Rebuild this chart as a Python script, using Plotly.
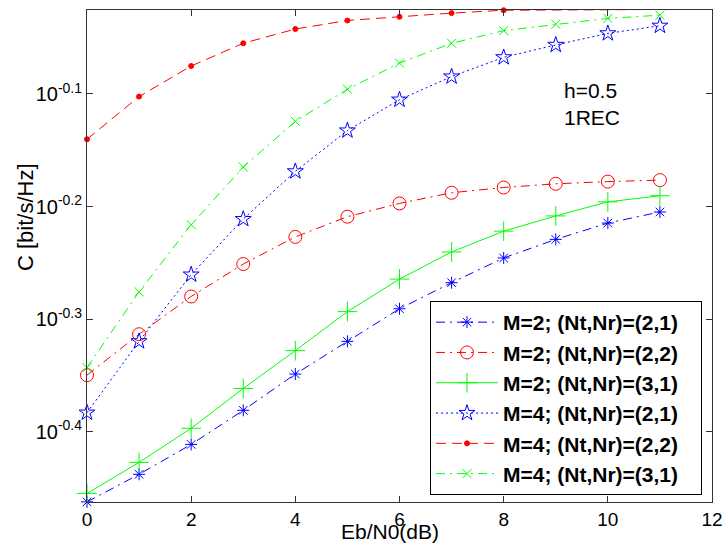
import plotly.graph_objects as go

ebn0 = [0, 1, 2, 3, 4, 5, 6, 7, 8, 9, 10, 11]

c_m2_21 = [0.345, 0.365, 0.388, 0.416, 0.448, 0.479, 0.512, 0.540, 0.568, 0.590, 0.610, 0.624]
c_m2_22 = [0.447, 0.486, 0.525, 0.561, 0.593, 0.618, 0.635, 0.649, 0.656, 0.661, 0.664, 0.666]
c_m2_31 = [0.351, 0.374, 0.401, 0.435, 0.470, 0.509, 0.544, 0.575, 0.600, 0.619, 0.637, 0.645]
c_m4_21 = [0.414, 0.479, 0.549, 0.615, 0.678, 0.737, 0.785, 0.823, 0.856, 0.878, 0.899, 0.913]
c_m4_22 = [0.724, 0.790, 0.841, 0.881, 0.907, 0.923, 0.930, 0.937, 0.9425, 0.943, 0.9435, 0.944]
c_m4_31 = [0.454, 0.530, 0.608, 0.684, 0.751, 0.802, 0.846, 0.881, 0.904, 0.916, 0.927, 0.933]

names = [
    "M=2; (Nt,Nr)=(2,1)",
    "M=2; (Nt,Nr)=(2,2)",
    "M=2; (Nt,Nr)=(3,1)",
    "M=4; (Nt,Nr)=(2,1)",
    "M=4; (Nt,Nr)=(2,2)",
    "M=4; (Nt,Nr)=(3,1)",
]

ytick_exps = ["-0.4", "-0.3", "-0.2", "-0.1"]
xtick_vals = [0, 2, 4, 6, 8, 10, 12]

BLUE = "rgb(0,0,255)"
RED = "rgb(255,0,0)"
GREEN = "rgb(0,255,0)"
DASHDOT = "9px,5px,2px,5px"
FONT = "Liberation Sans, Arial, sans-serif"
PAD = "\u00a0\u00a0\u00a0"

styles = [
    dict(color=BLUE, dash=DASHDOT, symbol="asterisk-open", size=10),
    dict(color=RED, dash=DASHDOT, symbol="circle-open", size=13),
    dict(color=GREEN, dash="solid", symbol="cross-thin-open", size=14),
    dict(color=BLUE, dash="2px,3px", symbol="star-open", size=12),
    dict(color=RED, dash="10px,6px", symbol="circle", size=5),
    dict(color=GREEN, dash=DASHDOT, symbol="x-thin-open", size=9),
]

series = [c_m2_21, c_m2_22, c_m2_31, c_m4_21, c_m4_22, c_m4_31]

fig = go.Figure()
for name, ys, st in zip(names, series, styles):
    fig.add_trace(go.Scatter(
        x=ebn0, y=ys, name=name + PAD, mode="lines+markers",
        cliponaxis=False,
        line=dict(color=st["color"], width=1, dash=st["dash"]),
        marker=dict(symbol=st["symbol"], size=st["size"], color=st["color"],
                    line=dict(color=st["color"], width=1)),
    ))

fig.update_layout(
    width=724, height=546,
    margin=dict(l=87, r=12, t=10, b=44),
    plot_bgcolor="white", paper_bgcolor="white",
    font=dict(family=FONT, color="black", size=20),
    showlegend=True,
    legend=dict(
        x=(430 - 87) / 625, y=(502 - 495) / 492, xanchor="left", yanchor="bottom",
        bgcolor="white", bordercolor="black", borderwidth=1,
        font=dict(size=21, weight="bold", family=FONT),
        itemwidth=62,
    ),
    xaxis=dict(
        range=[0, 12], tickvals=xtick_vals, ticks="inside", ticklen=6,
        showline=True, mirror="ticks", linecolor="#333", tickcolor="#333",
        linewidth=1, showgrid=False, zeroline=False, automargin=False,
        tickfont=dict(size=19),
    ),
    yaxis=dict(
        type="log", range=[-0.4623, -0.0255],
        tickvals=[10 ** float(e) for e in ytick_exps],
        ticktext=[f"10<sup>{e}</sup>" for e in ytick_exps],
        ticks="inside", ticklen=6, automargin=False,
        showline=True, mirror="ticks", linecolor="#333", tickcolor="#333",
        linewidth=1, showgrid=False, zeroline=False,
    ),
    annotations=[
        dict(text="C [bit/s/Hz]", textangle=-90, xref="paper", yref="paper",
             x=-62 / 625, y=(502 - 217) / 492, xanchor="center", yanchor="middle",
             showarrow=False, font=dict(size=22)),
        dict(text="Eb/N0(dB)", xref="paper", yref="paper",
             x=(390 - 87) / 625, y=(502 - 531) / 492, xanchor="center", yanchor="middle",
             showarrow=False, font=dict(size=21)),
        dict(text="h=0.5<br>1REC", xref="x", yref="y", x=9.12, y=-0.109,
             xanchor="left", yanchor="middle", align="left",
             showarrow=False, font=dict(size=21)),
    ],
)

fig.write_html("out.html", post_script="document.body.style.margin='0';",
               config={"displayModeBar": False})
